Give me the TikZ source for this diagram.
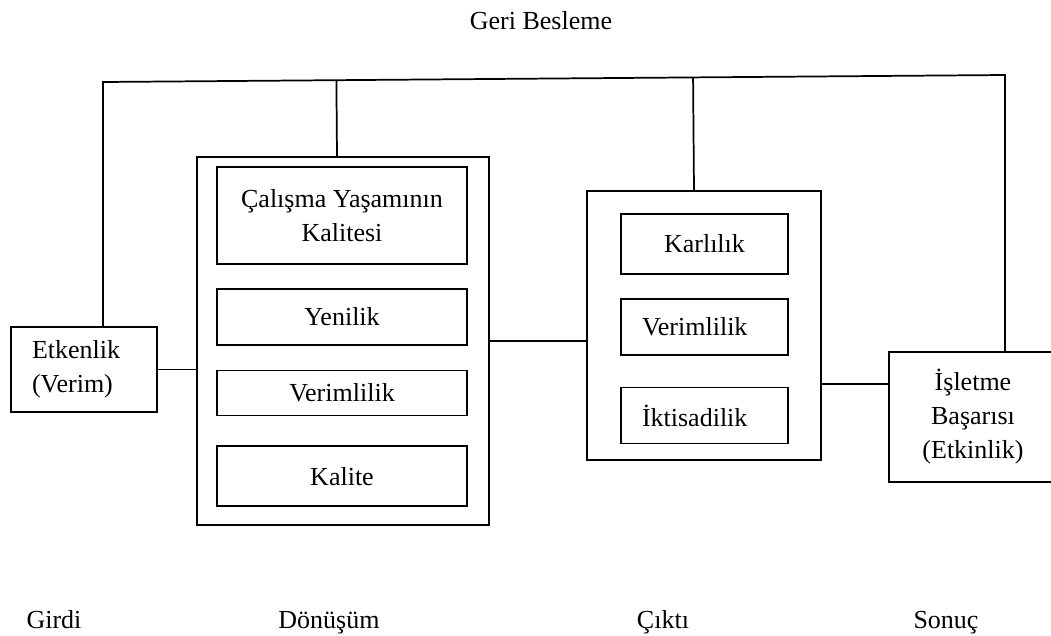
\documentclass[tikz,border=0pt]{standalone}
\usepackage{fontspec}
\setmainfont{Liberation Serif}
\usetikzlibrary{positioning}
\usetikzlibrary{calc}
\tikzset{x=0.75pt, y=-0.75pt, % One unit is one pixel of the figure, y runs downwards
      every node/.style={font=\fontsize{19.5pt}{25.5pt}\selectfont},
      block/.style={ % Sets the properties for each box
      draw,
      line width=1.3pt,
      align=center,
      minimum width=187.5pt},
      leftblock/.style={ % Boxes whose text starts at the left
      block,
      align=left,
      minimum width=0pt,
      inner xsep=15.75pt},
      group/.style={draw, line width=1.3pt}, % Outer frames
      link/.style={ % Sets the properties for each connector
      draw,
      line width=1.3pt}}

\begin{document}
\begin{tikzpicture}
      \useasboundingbox (0,0) rectangle (1051,636);
      % Girdi
      \node[leftblock, text width=78pt, minimum height=63.75pt] (etk) at (84,369.5) {Etkenlik\\(Verim)};
      % Dönüşüm
      \node[group, minimum width=219pt, minimum height=276pt] (don) at (343,341) {};
      \node[block, minimum height=72.75pt] (cal) at (342,215.5) {Çalışma Yaşamının\\Kalitesi};
      \node[block, minimum height=42pt, below=17.25pt of cal] (yen) {Yenilik};
      \node[block, minimum height=33.75pt, below=18pt of yen] (ver1) {Verimlilik};
      \node[block, minimum height=45pt, below=21.75pt of ver1] (kal) {Kalite};
      % Çıktı
      \node[group, minimum width=175.5pt, minimum height=201.75pt] (cik) at (704,325.5) {};
      \node[block, minimum width=125.25pt, minimum height=45pt] (kar) at (704.5,244) {Karlılık};
      \node[leftblock, text width=93.75pt, minimum height=42pt, below=17.25pt of kar] (ver2) {Verimlilik};
      \node[leftblock, text width=93.75pt, minimum height=42pt, below=23.25pt of ver2] (ikt) {İktisadilik};
      % Sonuç
      \node[block, minimum width=126pt, minimum height=97.5pt] (isl) at (973,417) {İşletme\\Başarısı\\(Etkinlik)};
      % Geri besleme
      \coordinate (fbL) at (103,82);
      \coordinate (fbR) at (1005,75);
      \node (geri) at (541,21) {Geri Besleme};
      \draw[link] (fbL |- etk.north) -- (fbL) -- (fbR) -- (fbR |- isl.north);
      \draw[link] ([xshift=-4.5pt]don.north) -- ($(fbL)!([xshift=-4.5pt]don.north)!(fbR)$);
      \draw[link] ([xshift=-7.5pt]cik.north) -- ($(fbL)!([xshift=-7.5pt]cik.north)!(fbR)$);
      % Akış
      \draw[link] (etk.east) -- (etk.east -| don.west);
      \draw[link] (don.east) -- (don.east -| cik.west);
      \draw[link] ([yshift=-44pt]cik.east) -- ([yshift=-44pt]cik.east -| isl.west);
      % Aşamalar
      \node[anchor=base] (girdi) at (54,628) {Girdi};
      \node[anchor=base] (donusum) at (329,628) {Dönüşüm};
      \node[anchor=base] (cikti) at (663,628) {Çıktı};
      \node[anchor=base] (sonuc) at (946,628) {Sonuç};
\end{tikzpicture}
\end{document}
